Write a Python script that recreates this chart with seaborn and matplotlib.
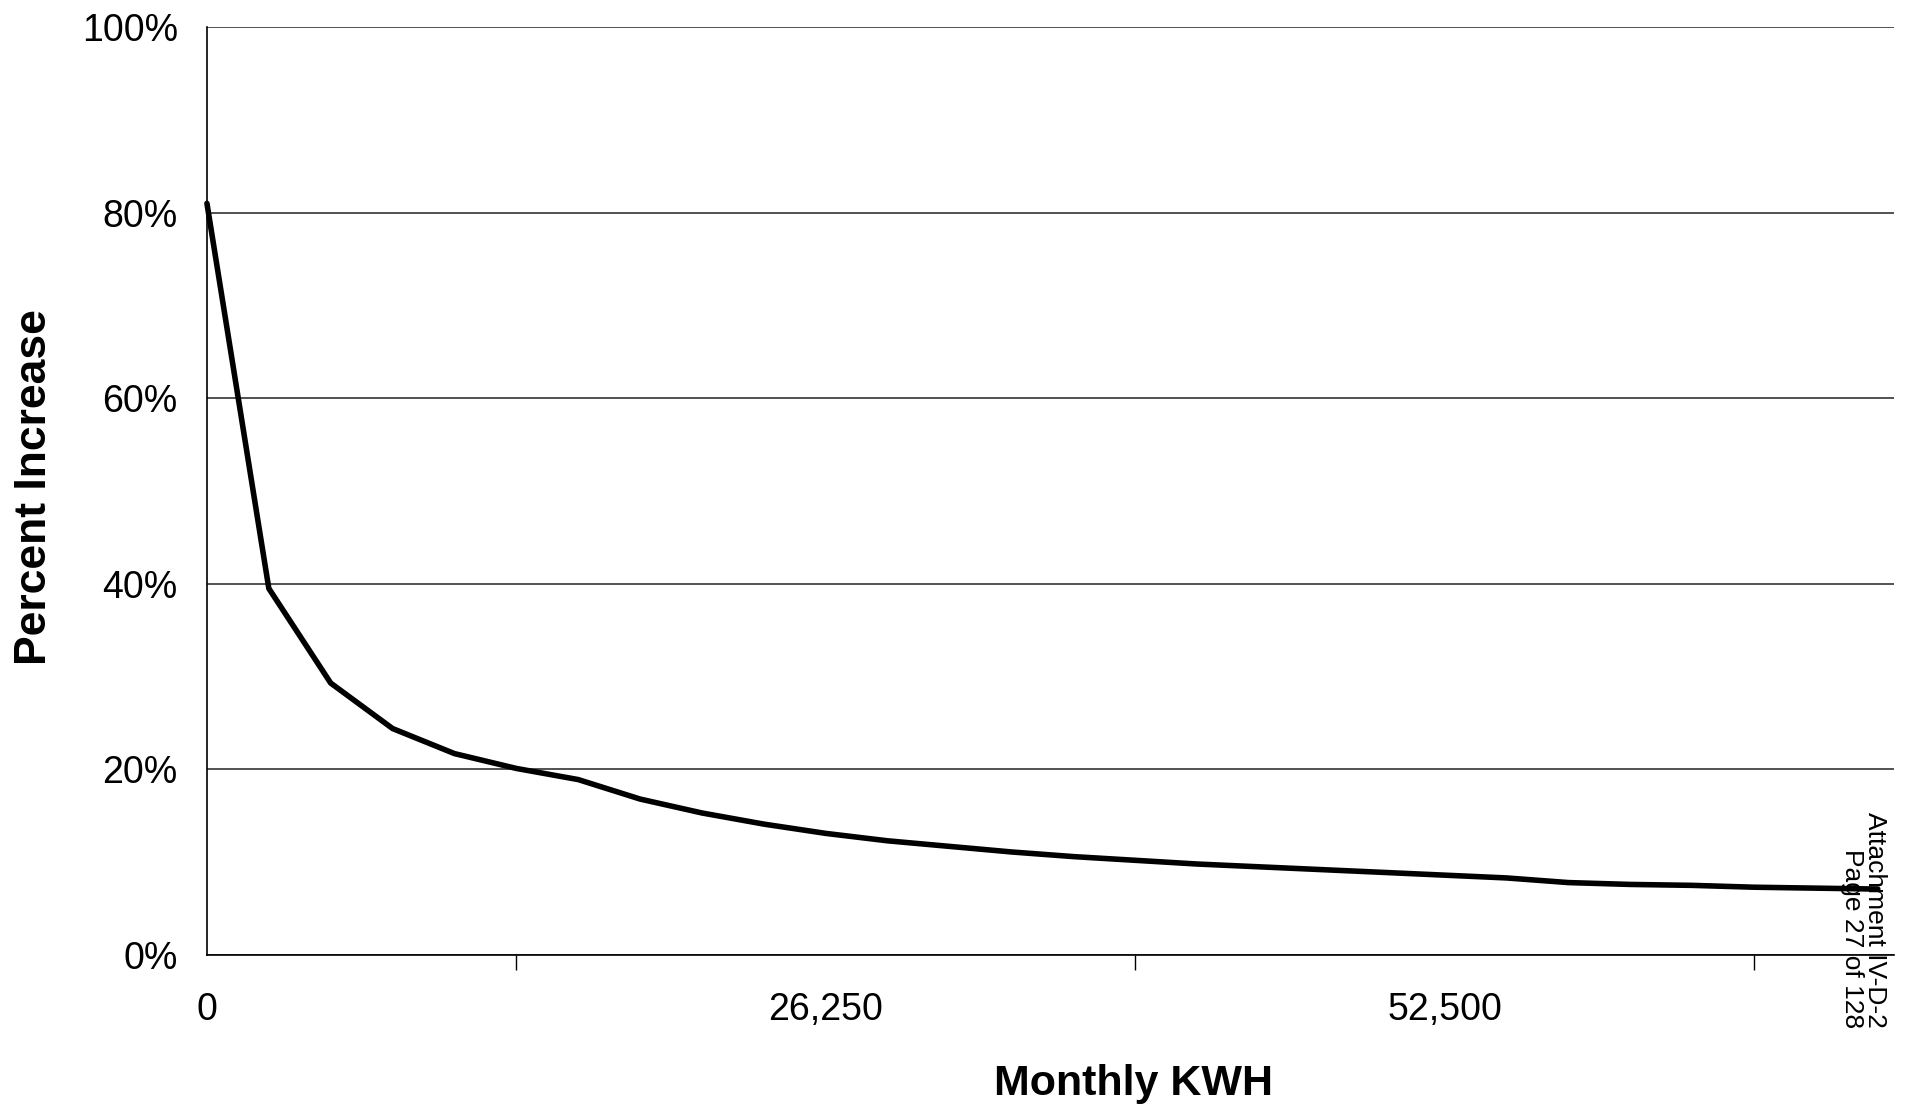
import matplotlib
matplotlib.use("Agg")
import matplotlib.pyplot as plt
import seaborn as sns
import pandas as pd
from matplotlib.ticker import FuncFormatter, FixedLocator

# ---- data ----
monthly_kwh = [0, 2625, 5250, 7875, 10500, 13125, 15750, 18375, 21000, 23625,
               26250, 28875, 31500, 34125, 36750, 39375, 42000, 44625, 47250,
               49875, 52500, 55125, 57750, 60375, 63000, 65625, 68250, 70875]
percent_increase = [0.81, 0.395, 0.293, 0.244, 0.217, 0.201, 0.189, 0.168, 0.153,
                    0.141, 0.131, 0.123, 0.117, 0.111, 0.106, 0.102, 0.098, 0.095,
                    0.092, 0.089, 0.086, 0.083, 0.078, 0.076, 0.075, 0.073, 0.072,
                    0.071]
x_labelled_ticks = [0, 26250, 52500]
x_minor_ticks = [13125, 39375, 65625]
y_ticks = [0.0, 0.2, 0.4, 0.6, 0.8, 1.0]
x_title = "Monthly KWH"
y_title = "Percent Increase"
stamp_text = "Attachment IV-D-2\nPage 27 of 128"

df = pd.DataFrame({"kwh": monthly_kwh, "pct": percent_increase})

sns.set_style("white")
plt.rcParams["font.family"] = ["Liberation Sans", "DejaVu Sans"]
plt.rcParams["text.color"] = "black"
plt.rcParams["axes.labelcolor"] = "black"

fig = plt.figure(figsize=(19.09, 11.13), dpi=100)
ax = fig.add_axes([0.1084, 0.142, 0.8836, 0.8337])

sns.lineplot(data=df, x="kwh", y="pct", ax=ax, color="black", linewidth=4.0,
             clip_on=False, solid_joinstyle="miter")

ax.set_xlim(0, 71550)
ax.set_ylim(0, 1.0)

ax.xaxis.set_major_locator(FixedLocator(x_labelled_ticks))
ax.xaxis.set_minor_locator(FixedLocator(x_minor_ticks))
ax.xaxis.set_major_formatter(FuncFormatter(lambda v, p: f"{v:,.0f}"))
ax.yaxis.set_major_locator(FixedLocator(y_ticks))
ax.yaxis.set_major_formatter(FuncFormatter(lambda v, p: f"{v*100:.0f}%"))

ax.tick_params(axis="both", which="both", direction="out", length=11, width=1.0,
               color="black", labelsize=27, labelcolor="black")
ax.tick_params(axis="y", pad=10)
ax.tick_params(axis="x", pad=16)
ax.tick_params(axis="x", which="minor", bottom=True)

ax.yaxis.grid(True, color="#222222", linewidth=1.1)
ax.xaxis.grid(False)
for side in ["top", "right"]:
    ax.spines[side].set_visible(False)
for side in ["left", "bottom"]:
    ax.spines[side].set_color("black")
    ax.spines[side].set_linewidth(1.2)

ax.set_xlabel(x_title, fontsize=31, fontweight="bold", va="center", color="black")
ax.set_ylabel(y_title, fontsize=32, fontweight="bold", va="center", color="black")
ax.xaxis.set_label_coords(0.5495, -0.139)
ax.yaxis.set_label_coords(-0.1025, 0.504)

fig.text(0.976, 0.27, stamp_text, rotation=270, ha="center", va="top",
         multialignment="right", fontsize=19, linespacing=0.95, color="black")

fig.savefig("out.png", dpi=100, facecolor="white")
